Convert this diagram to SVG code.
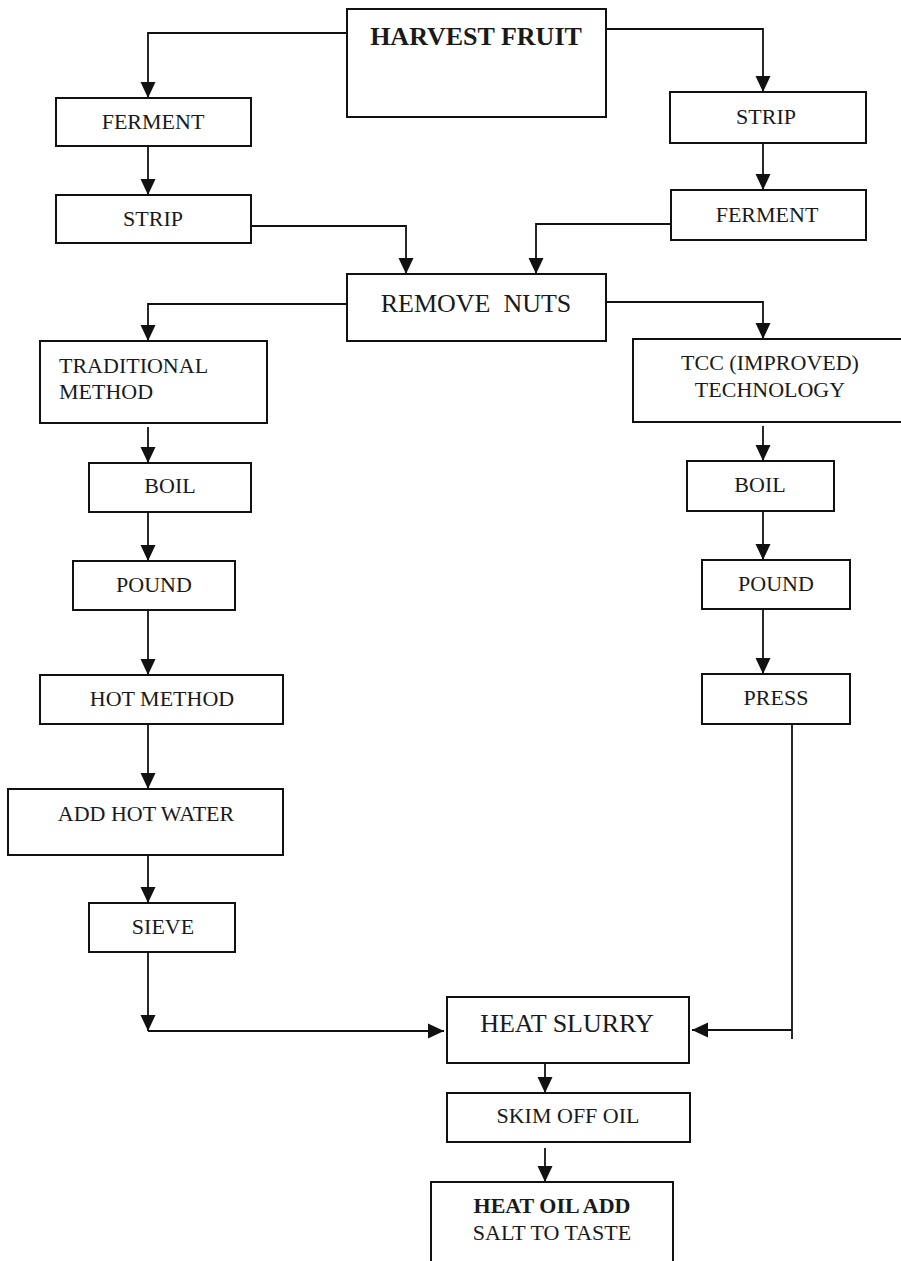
<svg xmlns="http://www.w3.org/2000/svg" width="901" height="1261" viewBox="0 0 901 1261">
<style>
.box{fill:#fff;stroke:#111;stroke-width:2}
.t{font-family:"Liberation Serif","Times New Roman",serif;font-size:22px;fill:#1a1a1a;text-anchor:middle}
.big{font-size:26px}
.b{font-weight:bold}
.c{fill:none;stroke:#111;stroke-width:1.8}
</style>
<defs>
<marker id="ah" viewBox="0 0 16 16" refX="16" refY="8" markerWidth="16" markerHeight="16" markerUnits="userSpaceOnUse" orient="auto">
<path d="M0,0.5 L16,8 L0,15.5 z" fill="#111"/>
</marker>
</defs>
<rect width="901" height="1261" fill="#fff"/>
<g id="connectors" class="c">
<path d="M347,33 H148 V98" marker-end="url(#ah)"/>
<path d="M606,29 H763 V92" marker-end="url(#ah)"/>
<path d="M148,146 V195" marker-end="url(#ah)"/>
<path d="M763,143 V190" marker-end="url(#ah)"/>
<path d="M251,226 H406 V274" marker-end="url(#ah)"/>
<path d="M671,224 H536 V274" marker-end="url(#ah)"/>
<path d="M347,304 H148 V341" marker-end="url(#ah)"/>
<path d="M606,302 H763 V339" marker-end="url(#ah)"/>
<path d="M148,427 V463" marker-end="url(#ah)"/>
<path d="M148,512 V561" marker-end="url(#ah)"/>
<path d="M148,610 V675" marker-end="url(#ah)"/>
<path d="M148,724 V789" marker-end="url(#ah)"/>
<path d="M148,855 V903" marker-end="url(#ah)"/>
<path d="M148,952 V1031" marker-end="url(#ah)"/>
<path d="M148,1031 H444" marker-end="url(#ah)"/>
<path d="M763,426 V461" marker-end="url(#ah)"/>
<path d="M763,511 V560" marker-end="url(#ah)"/>
<path d="M763,609 V674" marker-end="url(#ah)"/>
<path d="M792,724 V1039"/>
<path d="M792,1030 H692" marker-end="url(#ah)"/>
<path d="M545,1063 V1093" marker-end="url(#ah)"/>
<path d="M545,1148 V1182" marker-end="url(#ah)"/>
</g>
<g id="harvest"><rect class="box" x="347" y="9" width="259" height="108"/><text class="t big b" x="476" y="45">HARVEST FRUIT</text></g>
<g id="ferment-left"><rect class="box" x="56" y="98" width="195" height="48"/><text class="t" x="153" y="129">FERMENT</text></g>
<g id="strip-left"><rect class="box" x="56" y="195" width="195" height="48"/><text class="t" x="153" y="226">STRIP</text></g>
<g id="strip-right"><rect class="box" x="670" y="92" width="196" height="51"/><text class="t" x="766" y="124">STRIP</text></g>
<g id="ferment-right"><rect class="box" x="671" y="190" width="195" height="50"/><text class="t" x="767" y="222">FERMENT</text></g>
<g id="remove-nuts"><rect class="box" x="347" y="274" width="259" height="67"/><text class="t big" x="476" y="312">REMOVE&#160; NUTS</text></g>
<g id="traditional"><rect class="box" x="40" y="341" width="227" height="82"/><text class="t" x="59" y="373" style="text-anchor:start">TRADITIONAL</text><text class="t" x="59" y="399" style="text-anchor:start">METHOD</text></g>
<g id="tcc"><rect class="box" x="633" y="339" width="270" height="83"/><text class="t" x="770" y="370">TCC (IMPROVED)</text><text class="t" x="770" y="397">TECHNOLOGY</text></g>
<g id="boil-left"><rect class="box" x="89" y="463" width="162" height="49"/><text class="t" x="170" y="493">BOIL</text></g>
<g id="boil-right"><rect class="box" x="687" y="461" width="147" height="50"/><text class="t" x="760" y="492">BOIL</text></g>
<g id="pound-left"><rect class="box" x="73" y="561" width="162" height="49"/><text class="t" x="154" y="592">POUND</text></g>
<g id="pound-right"><rect class="box" x="702" y="560" width="148" height="49"/><text class="t" x="776" y="591">POUND</text></g>
<g id="hot-method"><rect class="box" x="40" y="675" width="243" height="49"/><text class="t" x="162" y="706">HOT METHOD</text></g>
<g id="press"><rect class="box" x="702" y="674" width="148" height="50"/><text class="t" x="776" y="705">PRESS</text></g>
<g id="add-hot-water"><rect class="box" x="8" y="789" width="275" height="66"/><text class="t" x="146" y="821">ADD HOT WATER</text></g>
<g id="sieve"><rect class="box" x="89" y="903" width="146" height="49"/><text class="t" x="163" y="934">SIEVE</text></g>
<g id="heat-slurry"><rect class="box" x="447" y="997" width="242" height="66"/><text class="t big" x="567" y="1032">HEAT SLURRY</text></g>
<g id="skim"><rect class="box" x="447" y="1093" width="243" height="49"/><text class="t" x="568" y="1123">SKIM OFF OIL</text></g>
<g id="heat-oil"><rect class="box" x="431" y="1182" width="242" height="90"/><text class="t b" x="552" y="1213">HEAT OIL ADD</text><text class="t" x="552" y="1240">SALT TO TASTE</text></g>
</svg>
